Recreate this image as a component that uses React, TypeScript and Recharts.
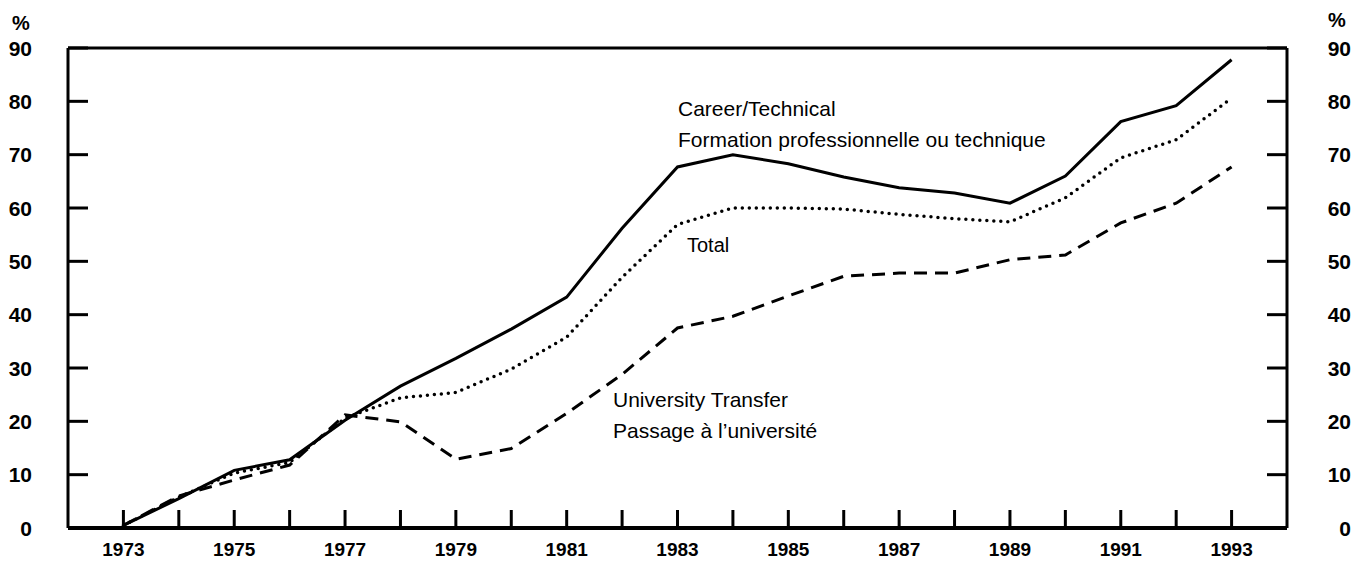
import { LineChart, Line, XAxis, YAxis, ReferenceLine } from 'recharts'

const years = [
  1973, 1974, 1975, 1976, 1977, 1978, 1979, 1980, 1981, 1982, 1983,
  1984, 1985, 1986, 1987, 1988, 1989, 1990, 1991, 1992, 1993,
]
const careerTechnical = [
  0.5, 5.5, 10.8, 12.8, 20.2, 26.6, 31.8, 37.3, 43.3, 56.2, 67.7,
  70.0, 68.3, 65.8, 63.8, 62.8, 60.9, 66.0, 76.2, 79.2, 87.8,
]
const total = [
  0.5, 5.8, 10.3, 12.3, 20.6, 24.4, 25.4, 29.8, 35.8, 47.0, 56.9,
  60.0, 60.0, 59.8, 58.8, 58.0, 57.4, 61.9, 69.4, 72.8, 80.6,
]
const universityTransfer = [
  0.5, 6.0, 9.0, 11.8, 21.2, 19.9, 12.9, 14.9, 21.5, 28.8, 37.5,
  39.7, 43.5, 47.2, 47.8, 47.8, 50.3, 51.2, 57.2, 60.9, 67.7,
]
const yTicks = [0, 10, 20, 30, 40, 50, 60, 70, 80, 90]

const data = years.map((year, i) => ({
  year,
  career: careerTechnical[i],
  total: total[i],
  univ: universityTransfer[i],
}))

const FONT = '"Liberation Sans", Arial, Helvetica, sans-serif'

function LeftTick({ x, y, payload }: any) {
  return (
    <g>
      <line x1={x} x2={x + 20} y1={y} y2={y} stroke="#000" strokeWidth={3} />
      <text x={x - 36} y={y} textAnchor="end" dominantBaseline="central"
        fontFamily={FONT} fontWeight="bold" fontSize={21} fill="#000">
        {payload.value}
      </text>
    </g>
  )
}

function RightTick({ x, y, payload }: any) {
  return (
    <g>
      <line x1={x - 20} x2={x} y1={y} y2={y} stroke="#000" strokeWidth={3} />
      <text x={x + 64} y={y} textAnchor="end" dominantBaseline="central"
        fontFamily={FONT} fontWeight="bold" fontSize={21} fill="#000">
        {payload.value}
      </text>
    </g>
  )
}

function YearTick({ x, y, payload }: any) {
  const odd = payload.value % 2 === 1
  return (
    <g>
      <line x1={x} x2={x} y1={y} y2={y - 18} stroke="#000" strokeWidth={3} />
      {odd && (
        <text x={x} y={y + 21} textAnchor="middle" dominantBaseline="central"
          fontFamily={FONT} fontWeight="bold" fontSize={19} fill="#000">
          {payload.value}
        </text>
      )}
    </g>
  )
}

export default function App() {
  return (
    <div style={{ position: 'relative', width: 1356, height: 561, background: '#fff' }}>
      <style>{'body{margin:0}'}</style>
      <LineChart width={1356} height={561} data={data}
        margin={{ top: 48, right: 0, bottom: 0, left: 0 }}>
        <XAxis dataKey="year" type="number" domain={[1972, 1994]} ticks={years}
          interval={0} tickSize={0} tickMargin={0} tickLine={false}
          axisLine={{ stroke: '#000', strokeWidth: 4 }} tick={<YearTick />} height={33} />
        <YAxis yAxisId="left" domain={[0, 90]} ticks={yTicks} interval={0} width={68}
          tickSize={0} tickMargin={0} tickLine={false}
          axisLine={{ stroke: '#000', strokeWidth: 3 }} tick={<LeftTick />} />
        <YAxis yAxisId="right" orientation="right" domain={[0, 90]} ticks={yTicks}
          interval={0} width={69} tickSize={0} tickMargin={0} tickLine={false}
          axisLine={{ stroke: '#000', strokeWidth: 3 }} tick={<RightTick />} />
        <ReferenceLine yAxisId="left" y={90} stroke="#000" strokeWidth={3} />
        <Line yAxisId="left" dataKey="career" type="linear" stroke="#000"
          strokeWidth={3} dot={false} isAnimationActive={false} />
        <Line yAxisId="right" dataKey="total" type="linear" stroke="#000"
          strokeWidth={3.5} strokeDasharray="0 7" strokeLinecap="round"
          dot={false} isAnimationActive={false} />
        <Line yAxisId="left" dataKey="univ" type="linear" stroke="#000"
          strokeWidth={3} strokeDasharray="13 8" dot={false} isAnimationActive={false} />
      </LineChart>
      <svg width={1356} height={561}
        style={{ position: 'absolute', left: 0, top: 0, pointerEvents: 'none' }}>
        <g fontFamily={FONT} fill="#000">
          <text x={12} y={30} fontSize={20} fontWeight="bold">%</text>
          <text x={1328} y={27} fontSize={20} fontWeight="bold">%</text>
          <text x={678} y={116} fontSize={21}>Career/Technical</text>
          <text x={678} y={147} fontSize={21}>Formation professionnelle ou technique</text>
          <text x={687} y={252} fontSize={20}>Total</text>
          <text x={613} y={407} fontSize={21}>University Transfer</text>
          <text x={613} y={438} fontSize={21}>Passage à l’université</text>
        </g>
      </svg>
    </div>
  )
}
